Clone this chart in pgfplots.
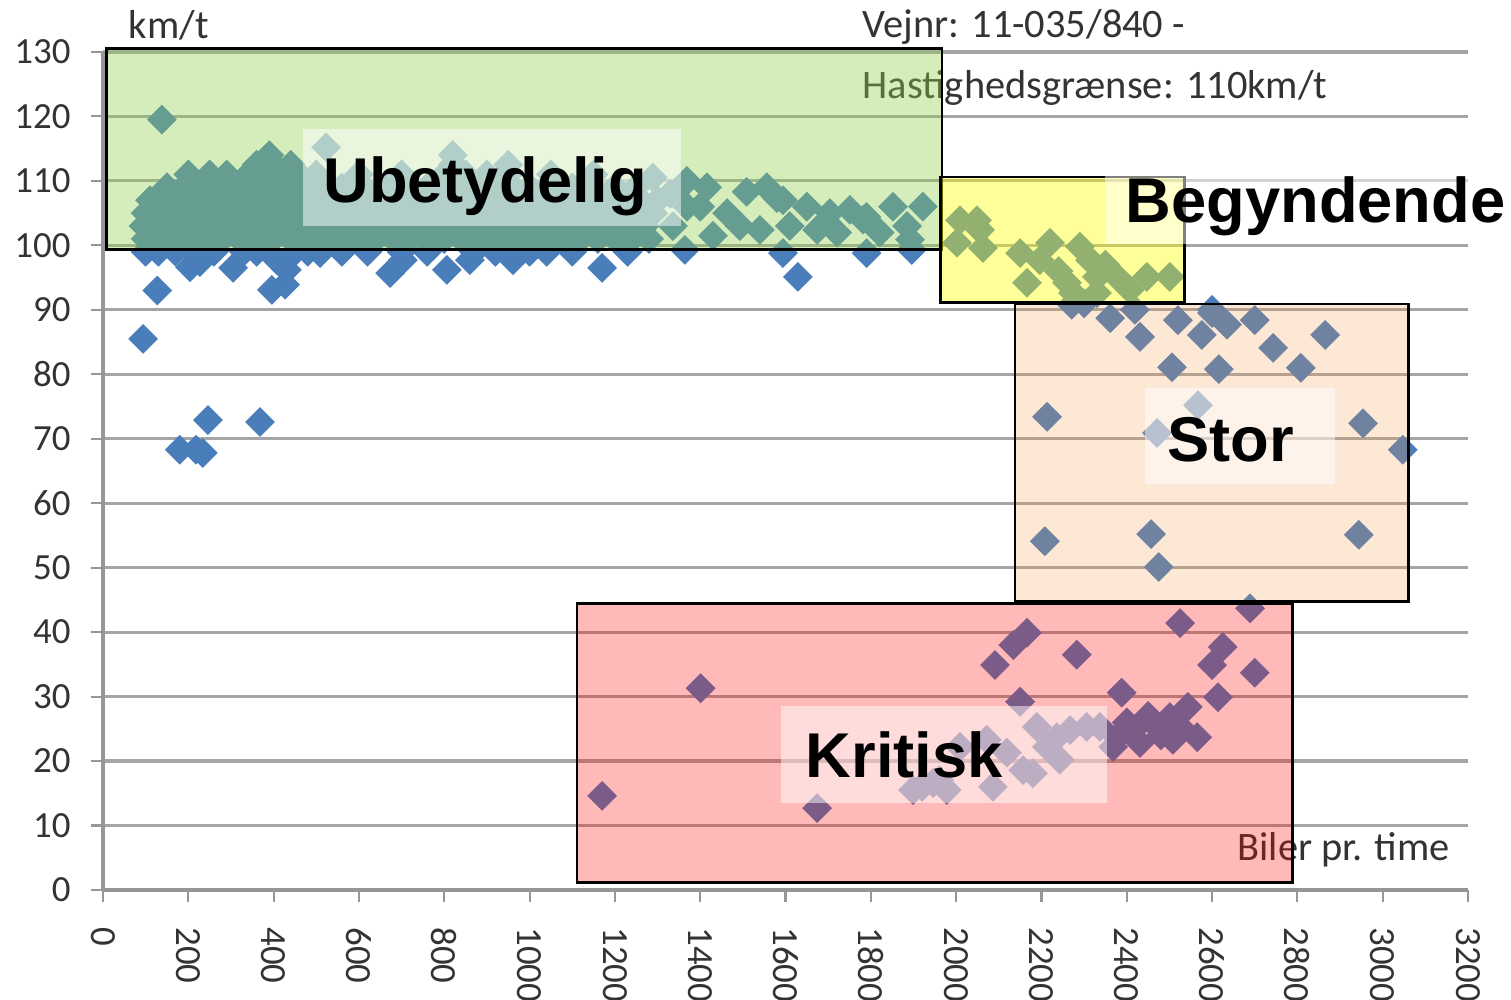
\documentclass[border=0pt]{standalone}
\usepackage{pgfplots}
\pgfplotsset{compat=1.18}
\usepackage{fontspec}
\setmainfont{Carlito}
\newfontfamily\arialfont{Liberation Sans}
\definecolor{myblue}{RGB}{74,126,187}
\definecolor{ovgreen}{RGB}{146,208,80}
\definecolor{ovyellow}{RGB}{255,255,0}
\definecolor{ovorange}{RGB}{247,150,70}
\definecolor{ovred}{RGB}{255,0,0}
\definecolor{gridgray}{RGB}{165,165,165}
\definecolor{axgray}{RGB}{150,150,150}
\newcommand{\lab}{\arialfont\bfseries\fontsize{18}{20}\selectfont}
\newcommand{\ann}{\fontsize{11.5}{13}\selectfont}
\pgfplotsset{myframe/.style={
  at={(1.03cm,1.10cm)}, anchor=south west,
  scale only axis, width=13.65cm, height=8.38cm,
  xmin=0, xmax=3200, ymin=0, ymax=130, clip=false}}
\begin{document}
\begin{tikzpicture}[x=1cm,y=1cm]
\useasboundingbox (0,0) rectangle (15.11,10);
\begin{axis}[
  myframe,
  xtick={0,200,...,3200}, ytick={0,10,...,130},
  scaled ticks=false,
  /pgf/number format/1000 sep={},
  /pgf/number format/assume math mode=true,
  axis x line*=bottom, axis y line*=left,
  axis line style={-, draw=axgray, line width=1.3pt},
  ymajorgrids, grid style={draw=gridgray, line width=0.9pt},
  tick align=outside, major tick length=1.2mm,
  tick style={draw=axgray, line width=0.6pt},
  ticklabel style={font=\fontsize{10.5}{12}\selectfont, text=black!80},
  xticklabel style={yshift=-1.3mm, rotate=-90, anchor=west},
  yticklabel style={xshift=-0.8mm},
]
\addplot[only marks, color=myblue, mark=square*, mark size=2.8pt,
  mark options={rotate=45, fill=myblue, draw=myblue}] coordinates {
(100,101)(120,101)(160,101)(200,101)(240,101)(280,101)(320,101)(360,101)(400,101)(440,101)(480,101)(520,101)(560,101)(600,101)(640,101)(680,101)(720,101)(760,101)(800,101)(840,101)(880,101)(920,101)(960,101)(1000,101)(1040,101)(1080,101)(1120,101)(1160,101)(1200,101)(1240,101)(1280,101)
(95,103)(110,103)(150,103)(190,103)(230,103)(270,103)(310,103)(350,103)(390,103)(430,103)(470,103)(510,103)(550,103)(590,103)(630,103)(670,103)(710,103)(750,103)(790,103)(830,103)(870,103)(910,103)(950,103)(990,103)(1030,103)(1070,103)(1110,103)(1150,103)(1190,103)(1230,103)(1270,103)
(100,105)(130,105)(170,105)(210,105)(250,105)(290,105)(330,105)(370,105)(410,105)(450,105)(490,105)(530,105)(570,105)(610,105)(650,105)(690,105)(730,105)(770,105)(810,105)(850,105)(890,105)(930,105)(970,105)(1010,105)(1050,105)(1090,105)(1130,105)(1170,105)(1210,105)(1250,105)(1290,105)
(110,107)(140,107)(180,107)(220,107)(260,107)(300,107)(340,107)(380,107)(420,107)(460,107)(500,107)(540,107)(580,107)(620,107)(660,107)(700,107)(740,107)(780,107)(820,107)(860,107)(900,107)(940,107)(980,107)(1020,107)(1060,107)(1100,107)(1140,107)(1180,107)(1220,107)(1260,107)(1300,107)
(150,109)(190,109)(230,109)(270,109)(310,109)(350,109)(390,109)(430,109)(470,109)(510,109)(560,109)(610,109)(660,109)(710,109)(760,109)(800,109)(840,109)(880,109)(920,109)(960,109)(1000,109)(1050,109)(1100,109)(1150,109)(1200,109)(1250,109)
(200,111)(250,111)(290,111)(340,111)(380,111)(420,111)(460,111)(500,111)(600,111)(700,111)(800,111)(850,111)(900,111)(950,111)(1050,111)(1150,111)
(360,112.5)(400,112.5)(440,112.5)(820,112.5)(950,112.5)(390,114)(820,114)(523,115.2)(138,119.5)(1289,110.5)
(1336,103)(1369,106)(1369,110)(1400,106)(1416,109)(1463,105)(1493,103)(1509,108.3)(1540,102.4)(1556,109)(1580,107.3)(1610,103)(1650,106)(1674,102.4)(1704,105)(1721,102)(1751,105.5)(1782,104)(1821,102)(1852,106)(1885,103)(1892,100.9)(1922,106)(1790,104.4)(1594,107)(1430,101.5)(1330,108)
(100,99)(127,93)(130,99)(170,99)(204,96.6)(210,99)(227,97.4)(260,99)(305,96.5)(330,99)(360,99)(396,93.1)(408,97.7)(427,93.9)(431,96.2)(450,99)(480,99)(509,98.8)(560,99)(620,99)(673,95.7)(700,99)(703,97.7)(760,99)(806,96.2)(860,97.7)(870,99)(920,99)(961,97.7)(1000,99)(1040,99)(1100,99)(1170,96.5)(1230,99)(1364,99.3)(1594,98.8)(1629,95.1)(1790,98.8)(1896,99.3)
(94,85.5)(180,68.3)(218,68.3)(234,67.8)(246,72.9)(368,72.6)
(2009,103.9)(2049,103.9)(2056,102.4)(2002,100.4)(2063,99.6)(2150,98.8)(2220,100.4)(2196,97.7)(2290,99.8)(2314,97.7)(2166,94.2)(2260,94.2)(2330,95.1)(2377,95.1)(2447,95.1)(2501,95.1)(2274,92.6)(2330,92.6)(2407,93.1)(2240,96)(2350,97)
(2271,90.8)(2361,88.7)(2419,90)(2431,85.8)(2520,88.4)(2576,86.1)(2600,89.5)(2635,87.7)(2700,88.4)(2743,84.1)(2865,86.1)(2506,81.1)(2616,80.8)(2808,81)(2213,73.4)(2567,75.2)(2471,70.9)(2954,72.4)(3047,68.3)(2208,54.1)(2457,55.2)(2475,50.1)(2944,55.1)(2300,91)(2600,90)
(1170,14.6)(1401,31.3)(1674,12.7)(1899,15.5)(1920,16)(1946,16.6)(1960,17)(1978,15.5)(2009,22.2)(2072,23.3)(2086,16)(2119,21.3)(2157,18.6)(2180,18.1)(2189,25.3)(2213,22.2)(2236,23.7)(2243,20.2)(2267,24.8)(2306,25.3)(2337,25.3)(2368,22.2)(2377,23.7)(2415,24.8)(2431,22.8)(2461,25.9)(2480,24)(2501,26.8)(2508,23.3)(2525,25.3)(2543,28.4)(2565,23.7)(2614,29.9)(2150,29.2)(2388,30.6)(2091,34.9)(2134,38)(2166,39.9)(2283,36.5)(2525,41.4)(2625,37.7)(2600,34.9)(2700,33.7)(2689,43.7)(2450,27)(2400,26)
};
% texts belonging to the chart
\node[anchor=west, inner sep=0, text=black!80, font=\ann] at (axis cs:59,134.2) {km/t};
\node[anchor=west, inner sep=0, text=black!80, font=\ann] at (axis cs:1779,133.9) {Vejnr: 11-035/840 -};
\node[anchor=west, inner sep=0, text=black!80, font=\ann] at (axis cs:1779,124.4) {Hastighedsgrænse: 110km/t};
\node[anchor=west, inner sep=0, text=black!80, font=\ann] at (axis cs:2658,6.2) {Biler pr. time};
\end{axis}
\begin{axis}[myframe, hide axis]
% overlay rectangles
\draw[fill=ovgreen, fill opacity=0.39, draw=black, line width=0.8pt] (axis cs:9,130.5) rectangle (axis cs:1967,99.4);
\draw[fill=ovyellow, fill opacity=0.40, draw=black, line width=0.8pt] (axis cs:1964,110.6) rectangle (axis cs:2536,91.1);
\draw[fill=ovorange, fill opacity=0.22, draw=black, line width=0.8pt] (axis cs:2138,90.9) rectangle (axis cs:3061,44.8);
\draw[fill=ovred, fill opacity=0.275, draw=black, line width=0.8pt] (axis cs:1111,44.5) rectangle (axis cs:2789,1.1);
% label boxes
\fill[white, fill opacity=0.5] (axis cs:469,118.1) rectangle (axis cs:1355,103.0);
\fill[white, fill opacity=0.5] (axis cs:2349,115.3) rectangle (axis cs:3345,100.2);
\fill[white, fill opacity=0.5] (axis cs:2443,77.9) rectangle (axis cs:2888,63.0);
\fill[white, fill opacity=0.5] (axis cs:1589,28.5) rectangle (axis cs:2353,13.5);
\node[anchor=base west, inner sep=0, font=\lab] at (axis cs:515,106.7) {Ubetydelig};
\node[anchor=base west, inner sep=0, font=\lab] at (axis cs:2396,103.6) {Begyndende};
\node[anchor=base west, inner sep=0, font=\lab] at (axis cs:2494,66.4) {Stor};
\node[anchor=base west, inner sep=0, font=\lab] at (axis cs:1646,17.4) {Kritisk};
\end{axis}
\end{tikzpicture}
\end{document}
